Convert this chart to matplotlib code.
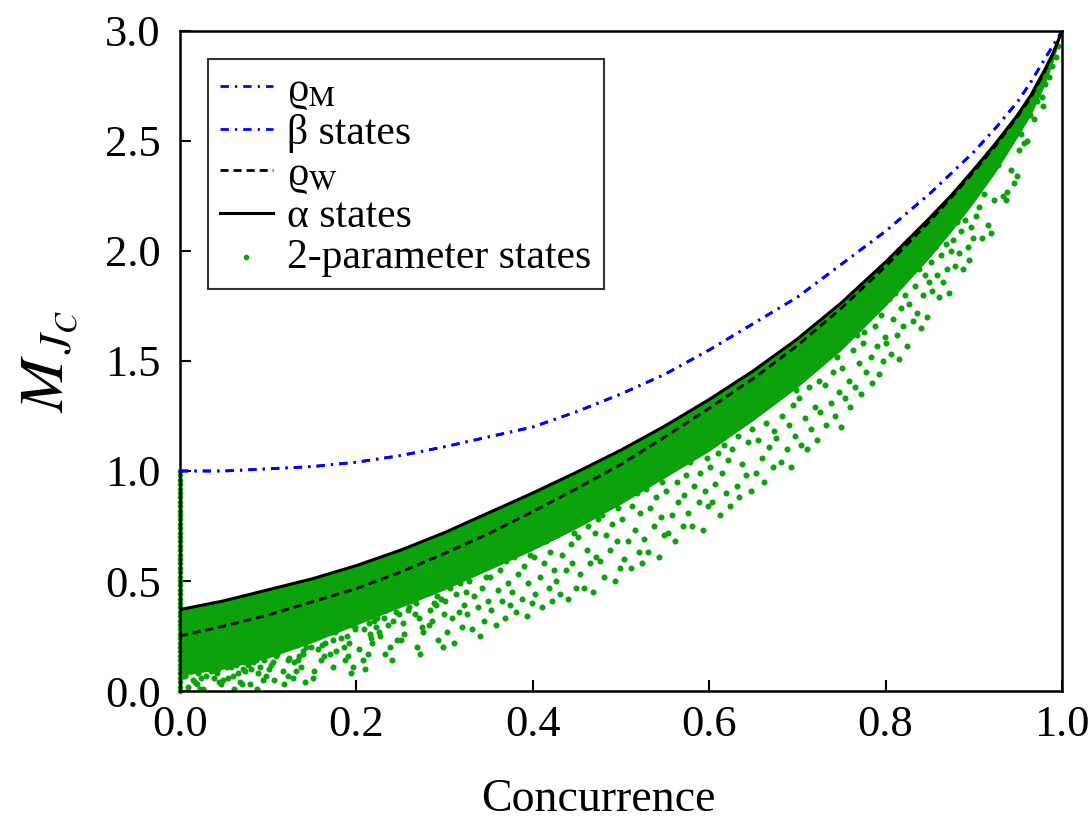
import matplotlib
matplotlib.use("Agg")
import matplotlib.pyplot as plt

# ===================== data =====================
# concurrence grid used for the curves
conc = [0.0, 0.05, 0.1, 0.15, 0.2, 0.25, 0.3, 0.35, 0.4, 0.45, 0.5, 0.55, 0.6,
        0.65, 0.7, 0.75, 0.8, 0.85, 0.875, 0.9, 0.925, 0.95, 0.965, 0.98, 0.99, 1.0]

# beta states / rho_M (blue dash-dot)
beta_m = [1.00, 1.00, 1.01, 1.02, 1.04, 1.07, 1.11, 1.155, 1.20, 1.27, 1.35, 1.44, 1.55,
          1.67, 1.79, 1.94, 2.09, 2.26, 2.355, 2.45, 2.56, 2.68, 2.77, 2.87, 2.935, 3.00]
# alpha states (black solid)
alpha_m = [0.37, 0.41, 0.46, 0.51, 0.57, 0.64, 0.72, 0.81, 0.90, 0.995, 1.095, 1.205, 1.325,
           1.455, 1.60, 1.765, 1.95, 2.15, 2.255, 2.37, 2.49, 2.62, 2.71, 2.82, 2.90, 3.00]
# rho_W (black dashed)
rhow_m = [0.25, 0.295, 0.345, 0.405, 0.465, 0.54, 0.625, 0.715, 0.815, 0.92, 1.03, 1.155, 1.285,
          1.42, 1.57, 1.74, 1.93, 2.135, 2.245, 2.36, 2.48, 2.612, 2.70, 2.813, 2.895, 3.00]
# lower edge of the densely packed part of the 2-parameter cloud
dense_low = [0.07, 0.10, 0.15, 0.22, 0.30, 0.38, 0.46, 0.55, 0.64, 0.74, 0.85, 0.97, 1.09,
             1.23, 1.38, 1.55, 1.75, 1.97, 2.09, 2.22, 2.36, 2.52, 2.62, 2.75, 2.86, 3.00]

# loose 2-parameter states around / below the dense band (concurrence, M)
cloud = [
    # C 0.00 - 0.30
    (0.002, 0.11), (0.019, 0.03), (0.007, 0.08), (0.023, 0.01), (0.011, 0.10), (0.015, 0.05),
    (0.004, 0.07), (0.021, 0.10), (0.009, 0.02), (0.013, 0.09), (0.017, 0.04), (0.001, 0.10),
    (0.024, 0.06), (0.006, 0.07), (0.012, 0.09), (0.020, 0.08),
    (0.039, 0.06), (0.028, 0.12), (0.047, 0.03), (0.034, 0.10), (0.042, 0.08), (0.026, 0.01),
    (0.037, 0.13), (0.049, 0.05), (0.031, 0.11), (0.044, 0.04), (0.035, 0.09), (0.029, 0.07),
    (0.046, 0.12), (0.040, 0.09), (0.033, 0.11), (0.043, 0.10),
    (0.058, 0.11), (0.070, 0.03), (0.051, 0.14), (0.066, 0.08), (0.061, 0.01), (0.073, 0.13),
    (0.055, 0.06), (0.063, 0.12), (0.068, 0.04), (0.052, 0.15), (0.074, 0.09), (0.060, 0.07),
    (0.057, 0.14), (0.071, 0.10), (0.065, 0.13), (0.053, 0.11),
    (0.092, 0.16), (0.081, 0.10), (0.087, 0.01), (0.099, 0.18), (0.077, 0.12), (0.094, 0.05),
    (0.084, 0.15), (0.089, 0.08), (0.096, 0.17), (0.079, 0.03), (0.086, 0.14), (0.098, 0.07),
    (0.091, 0.11), (0.076, 0.16), (0.083, 0.13), (0.095, 0.14),
    (0.105, 0.13), (0.113, 0.20), (0.122, 0.07), (0.110, 0.17), (0.101, 0.10), (0.118, 0.03),
    (0.115, 0.19), (0.124, 0.15), (0.107, 0.05), (0.120, 0.21), (0.103, 0.12), (0.112, 0.18),
    (0.117, 0.09), (0.109, 0.16), (0.123, 0.14), (0.114, 0.19),
    (0.139, 0.18), (0.128, 0.06), (0.147, 0.24), (0.134, 0.14), (0.142, 0.04), (0.126, 0.22),
    (0.137, 0.11), (0.149, 0.20), (0.131, 0.09), (0.144, 0.25), (0.135, 0.16), (0.129, 0.13),
    (0.146, 0.23), (0.140, 0.17), (0.133, 0.21), (0.143, 0.20),
    (0.158, 0.26), (0.170, 0.17), (0.151, 0.06), (0.166, 0.28), (0.161, 0.21), (0.173, 0.11),
    (0.155, 0.25), (0.163, 0.16), (0.168, 0.28), (0.152, 0.09), (0.174, 0.23), (0.160, 0.14),
    (0.157, 0.19), (0.171, 0.27), (0.165, 0.22), (0.153, 0.24),
    (0.192, 0.22), (0.181, 0.32), (0.187, 0.14), (0.199, 0.28), (0.177, 0.18), (0.194, 0.08),
    (0.184, 0.31), (0.189, 0.25), (0.196, 0.11), (0.179, 0.33), (0.186, 0.20), (0.198, 0.29),
    (0.191, 0.16), (0.176, 0.27), (0.183, 0.24), (0.195, 0.30),
    (0.205, 0.37), (0.213, 0.17), (0.222, 0.29), (0.210, 0.10), (0.201, 0.34), (0.218, 0.22),
    (0.215, 0.26), (0.224, 0.37), (0.207, 0.14), (0.220, 0.32), (0.203, 0.19), (0.212, 0.35),
    (0.217, 0.24), (0.209, 0.28), (0.223, 0.33), (0.214, 0.31),
    (0.227, 0.25), (0.244, 0.39), (0.232, 0.17), (0.248, 0.35), (0.236, 0.30), (0.240, 0.14),
    (0.229, 0.41), (0.246, 0.23), (0.234, 0.37), (0.238, 0.20), (0.242, 0.32), (0.226, 0.27),
    (0.249, 0.41), (0.231, 0.33), (0.237, 0.38), (0.245, 0.36),
    (0.264, 0.42), (0.253, 0.31), (0.272, 0.17), (0.259, 0.45), (0.267, 0.35), (0.251, 0.23),
    (0.262, 0.41), (0.274, 0.29), (0.256, 0.44), (0.269, 0.20), (0.260, 0.38), (0.254, 0.26),
    (0.271, 0.33), (0.265, 0.43), (0.258, 0.37), (0.268, 0.40),
    (0.283, 0.37), (0.295, 0.48), (0.276, 0.27), (0.291, 0.43), (0.286, 0.32), (0.298, 0.20),
    (0.280, 0.47), (0.288, 0.40), (0.293, 0.23), (0.277, 0.49), (0.299, 0.35), (0.285, 0.45),
    (0.282, 0.30), (0.296, 0.42), (0.290, 0.39), (0.278, 0.46),
    # C 0.30 - 0.60
    (0.301, 0.41), (0.303, 0.27), (0.306, 0.47), (0.308, 0.33), (0.311, 0.22), (0.313, 0.44),
    (0.316, 0.36), (0.318, 0.49), (0.320, 0.29), (0.322, 0.39), (0.324, 0.45),
    (0.326, 0.35), (0.328, 0.50), (0.331, 0.28), (0.333, 0.43), (0.336, 0.54), (0.338, 0.38),
    (0.340, 0.25), (0.343, 0.47), (0.345, 0.32), (0.347, 0.52), (0.349, 0.41),
    (0.351, 0.52), (0.353, 0.37), (0.356, 0.58), (0.358, 0.30), (0.361, 0.46), (0.363, 0.55),
    (0.365, 0.41), (0.368, 0.33), (0.370, 0.59), (0.372, 0.49), (0.374, 0.39),
    (0.376, 0.45), (0.379, 0.61), (0.381, 0.36), (0.383, 0.53), (0.386, 0.63), (0.388, 0.42),
    (0.390, 0.57), (0.393, 0.34), (0.395, 0.49), (0.397, 0.62), (0.399, 0.40),
    (0.401, 0.61), (0.403, 0.44), (0.406, 0.67), (0.408, 0.52), (0.410, 0.38), (0.413, 0.58),
    (0.415, 0.68), (0.418, 0.47), (0.420, 0.63), (0.422, 0.41), (0.424, 0.55),
    (0.426, 0.50), (0.428, 0.71), (0.431, 0.44), (0.433, 0.62), (0.436, 0.73), (0.438, 0.55),
    (0.440, 0.42), (0.443, 0.67), (0.445, 0.58), (0.447, 0.72), (0.449, 0.47),
    (0.451, 0.70), (0.454, 0.53), (0.456, 0.77), (0.458, 0.47), (0.461, 0.64), (0.463, 0.75),
    (0.465, 0.58), (0.468, 0.45), (0.470, 0.72), (0.472, 0.61), (0.474, 0.78),
    (0.476, 0.59), (0.478, 0.80), (0.481, 0.52), (0.483, 0.71), (0.486, 0.84), (0.488, 0.64),
    (0.490, 0.76), (0.493, 0.50), (0.495, 0.68), (0.497, 0.83), (0.499, 0.56),
    (0.501, 0.78), (0.503, 0.60), (0.506, 0.88), (0.508, 0.68), (0.511, 0.56), (0.513, 0.84),
    (0.516, 0.73), (0.518, 0.90), (0.520, 0.63), (0.522, 0.81), (0.524, 0.58),
    (0.526, 0.69), (0.528, 0.92), (0.531, 0.63), (0.533, 0.83), (0.536, 0.96), (0.538, 0.75),
    (0.540, 0.88), (0.543, 0.61), (0.545, 0.79), (0.547, 0.95), (0.549, 0.71),
    (0.551, 0.91), (0.553, 0.72), (0.556, 1.01), (0.558, 0.80), (0.561, 0.68), (0.563, 0.95),
    (0.565, 0.86), (0.568, 1.03), (0.570, 0.75), (0.572, 0.89), (0.574, 0.98),
    (0.576, 0.81), (0.578, 1.04), (0.581, 0.75), (0.583, 0.93), (0.586, 1.08), (0.588, 0.86),
    (0.590, 0.99), (0.593, 0.73), (0.595, 0.91), (0.597, 1.06), (0.599, 0.84),
    # C 0.60 - 0.90
    (0.601, 1.02), (0.603, 0.86), (0.606, 1.15), (0.607, 0.94), (0.610, 1.08), (0.612, 0.80),
    (0.615, 0.99), (0.617, 1.12), (0.619, 0.90), (0.621, 1.05), (0.624, 0.84),
    (0.626, 1.10), (0.628, 1.21), (0.631, 0.93), (0.633, 1.16), (0.634, 0.88), (0.637, 1.03),
    (0.640, 1.24), (0.642, 0.98), (0.644, 1.13), (0.647, 0.91), (0.649, 1.19),
    (0.651, 1.27), (0.653, 0.99), (0.655, 1.14), (0.658, 1.30), (0.660, 1.06), (0.662, 0.95),
    (0.665, 1.22), (0.668, 1.11), (0.670, 1.31), (0.672, 1.02), (0.674, 1.18),
    (0.676, 1.15), (0.679, 1.34), (0.681, 1.04), (0.683, 1.25), (0.686, 1.38), (0.688, 1.10),
    (0.690, 1.21), (0.693, 1.02), (0.695, 1.30), (0.697, 1.16), (0.699, 1.37),
    (0.702, 1.33), (0.704, 1.12), (0.706, 1.44), (0.709, 1.24), (0.711, 1.10), (0.713, 1.38),
    (0.716, 1.19), (0.718, 1.46), (0.720, 1.29), (0.722, 1.14), (0.724, 1.41),
    (0.726, 1.27), (0.728, 1.50), (0.731, 1.39), (0.733, 1.21), (0.736, 1.54), (0.738, 1.31),
    (0.740, 1.45), (0.743, 1.25), (0.745, 1.52), (0.747, 1.36), (0.749, 1.20),
    (0.751, 1.47), (0.754, 1.33), (0.756, 1.60), (0.758, 1.41), (0.760, 1.29), (0.763, 1.55),
    (0.765, 1.38), (0.768, 1.62), (0.770, 1.49), (0.772, 1.35), (0.774, 1.58),
    (0.776, 1.63), (0.778, 1.45), (0.781, 1.70), (0.783, 1.52), (0.785, 1.40), (0.788, 1.66),
    (0.790, 1.57), (0.792, 1.44), (0.795, 1.71), (0.797, 1.50), (0.799, 1.61),
    (0.801, 1.58), (0.804, 1.78), (0.806, 1.53), (0.808, 1.69), (0.811, 1.81), (0.813, 1.62),
    (0.815, 1.51), (0.818, 1.74), (0.820, 1.66), (0.822, 1.80), (0.824, 1.57),
    (0.826, 1.76), (0.829, 1.90), (0.831, 1.68), (0.833, 1.84), (0.836, 1.72), (0.838, 1.92),
    (0.840, 1.65), (0.843, 1.80), (0.845, 1.89), (0.847, 1.70), (0.849, 1.86),
    (0.851, 1.95), (0.853, 1.82), (0.856, 2.02), (0.858, 1.89), (0.861, 1.79), (0.863, 1.98),
    (0.865, 1.86), (0.868, 2.03), (0.870, 1.92), (0.872, 1.81), (0.874, 2.00),
    (0.876, 2.05), (0.879, 1.93), (0.881, 2.13), (0.883, 1.99), (0.886, 2.09), (0.888, 1.92),
    (0.890, 2.14), (0.893, 2.02), (0.895, 1.96), (0.897, 2.11), (0.899, 2.06),
    # C 0.90 - 1.00
    (0.906, 2.20), (0.919, 2.08), (0.912, 2.26), (0.902, 2.16), (0.923, 2.23), (0.909, 2.06),
    (0.916, 2.12),
    (0.938, 2.27), (0.928, 2.39), (0.946, 2.31), (0.933, 2.25), (0.942, 2.37), (0.949, 2.34),
    (0.936, 2.23),
    (0.954, 2.53), (0.968, 2.60), (0.960, 2.50), (0.972, 2.68), (0.951, 2.46), (0.964, 2.62),
    (0.957, 2.49),
    (0.977, 2.70), (0.981, 2.76), (0.985, 2.79), (0.989, 2.84), (0.993, 2.88), (0.979, 2.66),
    (0.996, 2.93),
]
cloud_c = [p[0] for p in cloud]
cloud_m = [p[1] for p in cloud]

# states sitting exactly at zero concurrence (thin vertical stripe)
zero_m = [0.00, 0.02, 0.04, 0.06, 0.08, 0.10, 0.12, 0.14, 0.16, 0.18, 0.20, 0.22, 0.24,
          0.26, 0.28, 0.30, 0.32, 0.34, 0.36, 0.38, 0.40, 0.42, 0.44, 0.46, 0.48, 0.50,
          0.52, 0.54, 0.56, 0.58, 0.60, 0.62, 0.64, 0.66, 0.68, 0.70, 0.72, 0.74, 0.76,
          0.78, 0.80, 0.82, 0.84, 0.86, 0.88, 0.90, 0.92, 0.94, 0.96, 0.98, 1.00]
zero_c = [0.0] * len(zero_m)

x_ticks = [0.0, 0.2, 0.4, 0.6, 0.8, 1.0]
y_ticks = [0.0, 0.5, 1.0, 1.5, 2.0, 2.5, 3.0]

# ===================== style =====================
plt.rcParams["font.family"] = ["Liberation Serif", "STIXGeneral", "DejaVu Serif"]
plt.rcParams["mathtext.fontset"] = "stix"

green = "#0ba20b"
blue = "#0000ff"

fig = plt.figure(figsize=(10.92, 8.24), dpi=100)
ax = fig.add_axes([0.1648, 0.1614, 0.8077, 0.801])

# ===================== drawing =====================
ax.fill_between(conc, dense_low, alpha_m, color=green, linewidth=0, zorder=1)
ax.scatter(cloud_c, cloud_m, s=19, color=green, linewidths=0, zorder=2)
ax.scatter(zero_c, zero_m, s=16, color=green, linewidths=0, zorder=2, clip_on=False)

ax.plot(conc, beta_m, color=blue, lw=2.0, dashes=(3, 2.2, 0.8, 2.2), zorder=3, label="ϱ$_{\\mathrm{M}}$")
ax.plot(conc, beta_m, color=blue, lw=2.0, dashes=(3, 2.2, 0.8, 2.2), zorder=3, label="β states")
ax.plot(conc, rhow_m, color="black", lw=2.0, dashes=(2.9, 1.8), zorder=4, label="ϱ$_{\\mathrm{W}}$")
ax.plot(conc, alpha_m, color="black", lw=2.2, zorder=4, label="α states")
ax.scatter([], [], s=16, color=green, linewidths=0, label="2-parameter states")

ax.set_xlim(0, 1)
ax.set_ylim(0, 3)
ax.set_xticks(x_ticks)
ax.set_yticks(y_ticks)
ax.set_xticklabels([f"{v:.1f}" for v in x_ticks])
ax.set_yticklabels([f"{v:.1f}" for v in y_ticks])
ax.tick_params(direction="in", length=8, width=1.5, labelsize=32, top=False, right=False)
ax.tick_params(axis="x", pad=10)
ax.tick_params(axis="y", pad=14)
for sp in ax.spines.values():
    sp.set_linewidth(1.8)

ax.set_xlabel("Concurrence", fontsize=33)
ax.xaxis.set_label_coords(0.474, -0.133)
ax.set_ylabel(r"$M_{\,J_C}$", fontsize=46)
ax.yaxis.set_label_coords(-0.113, 0.5)

leg = ax.legend(loc="upper left", bbox_to_anchor=(0.0317, 0.9576), borderaxespad=0,
                fontsize=30, frameon=True, fancybox=False, edgecolor="black",
                handlelength=1.25, handletextpad=0.35, labelspacing=0.05,
                borderpad=0.3, markerscale=1.0)
leg.get_frame().set_linewidth(1.5)

fig.savefig("out.png", dpi=100)
